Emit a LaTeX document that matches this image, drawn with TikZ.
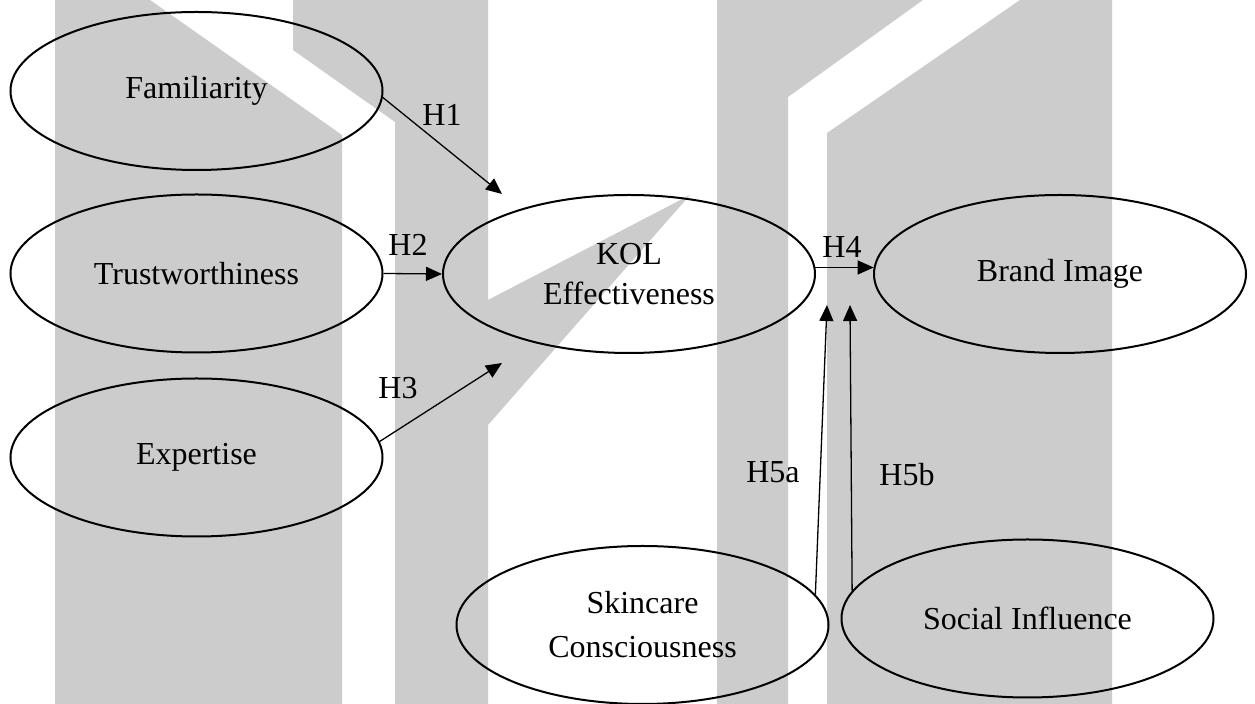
\documentclass[tikz,border=0pt]{standalone}
\usepackage{fontspec}
\setmainfont{Liberation Serif}
\usetikzlibrary{shapes.geometric,arrows.meta}
\definecolor{wmgray}{RGB}{204,204,204}
\tikzset{
  construct/.style={draw, line width=1pt, ellipse, minimum width=186pt,
    minimum height=79pt, inner sep=0pt, align=center,
    font=\fontsize{16}{20}\selectfont},
  link/.style={line width=0.65pt, -{Triangle[length=8pt,width=7pt]}},
  hyp/.style={inner sep=0pt, font=\fontsize{16}{20}\selectfont},
}
\begin{document}
\begin{tikzpicture}[x=0.5pt,y=-0.5pt]
% page and background emblem
\fill[white] (0,0) rectangle (1255,704);
\useasboundingbox (0,0) rectangle (1255,704);
\fill[wmgray] (55,0) -- (150,0) -- (342,135) -- (342,704) -- (55,704) -- cycle;
\fill[wmgray] (293,0) -- (488,0) -- (488,300) -- (690,195) -- (488,425)
  -- (488,704) -- (395,704) -- (395,122) -- (293,50) -- cycle;
\fill[wmgray] (717,0) -- (923,0) -- (788,97) -- (788,704) -- (717,704) -- cycle;
\fill[wmgray] (1020,0) -- (1112,0) -- (1112,704) -- (827,704) -- (827,133) -- cycle;

% constructs
\node[construct] (fam) at (196.5,91) {Familiarity};
\node[construct] (tw) at (196.5,273.5) {Trustworthiness};
\node[construct] (exp) at (196.5,457.5) {Expertise};
\node[construct] (kol) at (629,274) {KOL\\Effectiveness};
\node[construct] (brand) at (1060,274) {Brand Image};
\node[construct, font=\fontsize{16}{22}\selectfont] (skin) at (642.5,625) {Skincare\\Consciousness};
\node[construct] (soc) at (1027.5,618.5) {Social Influence};

% arrow tips that stop short of a construct
\coordinate (t1) at (502,194);
\coordinate (t3) at (502,363);
\coordinate (t5a) at (827,305);
\coordinate (t5b) at (850,305);

% hypothesised paths
\draw[link] (fam.-2) -- (t1);
\draw[link] (tw.east) -- (kol.west);
\draw[link] (exp.5) -- (t3);
\draw[link] (kol.2) -- (brand.178);
\draw[link] (skin.10) -- (t5a);
\draw[link] (soc.171) -- (t5b);

% hypothesis labels
\node[hyp] (h1) at (442,115) {H1};
\node[hyp] (h2) at (408,245) {H2};
\node[hyp] (h3) at (398,388) {H3};
\node[hyp] (h4) at (842,247) {H4};
\node[hyp] (h5a) at (773,472) {H5a};
\node[hyp] (h5b) at (907,475) {H5b};
\end{tikzpicture}
\end{document}
